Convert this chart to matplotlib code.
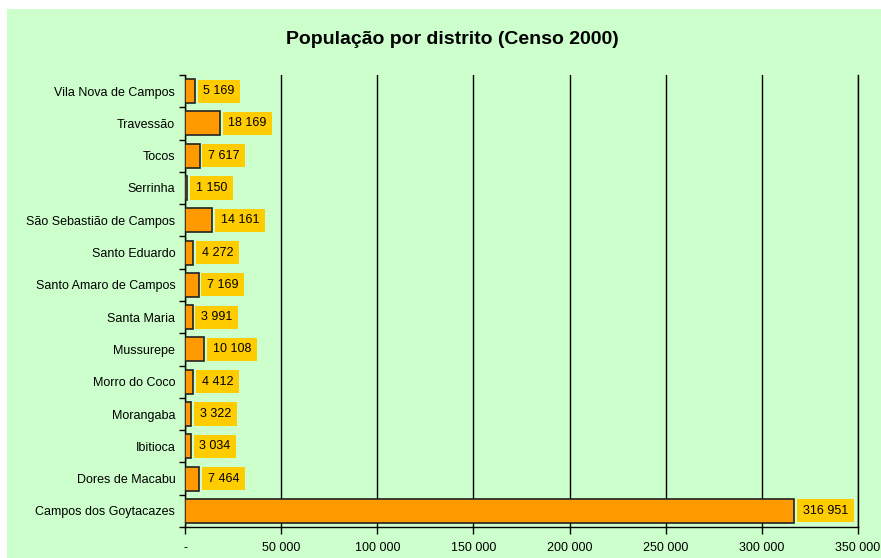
import matplotlib
matplotlib.use("Agg")
import matplotlib.pyplot as plt
from matplotlib.patches import Rectangle
from matplotlib.ticker import FuncFormatter, MultipleLocator

plt.rcParams['font.family'] = ['Liberation Sans', 'DejaVu Sans']

districts = ["Campos dos Goytacazes", "Dores de Macabu", "Ibitioca", "Morangaba",
             "Morro do Coco", "Mussurepe", "Santa Maria", "Santo Amaro de Campos",
             "Santo Eduardo", "São Sebastião de Campos", "Serrinha", "Tocos",
             "Travessão", "Vila Nova de Campos"]
population = [316951, 7464, 3034, 3322, 4412, 10108, 3991, 7169, 4272, 14161,
              1150, 7617, 18169, 5169]
title = "População por distrito (Censo 2000)"

def fmt(v):
    return f"{int(v):,}".replace(",", " ")

W, H = 881, 558
fig = plt.figure(figsize=(W / 100, H / 100), dpi=100)
fig.patch.set_facecolor("white")
fig.patches.append(Rectangle((7 / W, 0), 1 - 7 / W, 1 - 9 / H, transform=fig.transFigure,
                             facecolor="#CCFFCC", edgecolor="none", zorder=-10))

ax = fig.add_axes([185 / W, 31 / H, (858 - 185) / W, (527 - 75) / H])
ax.set_facecolor("none")
y = list(range(len(districts)))
ax.barh(y, population, height=0.74, color="#FF9900", edgecolor="#222222", linewidth=1.2, zorder=3)
for yi, v in zip(y, population):
    ax.annotate(fmt(v), (v, yi), xytext=(6, 0), textcoords="offset points",
                ha="left", va="center", fontsize=9, color="black", zorder=4,
                bbox=dict(boxstyle="square,pad=0.45", facecolor="#FFCC00", edgecolor="none"))

ax.set_xlim(0, 350000)
ax.set_ylim(-0.5, len(districts) - 0.5)
ax.xaxis.set_major_locator(MultipleLocator(50000))
ax.xaxis.set_major_formatter(FuncFormatter(lambda v, p: "-" if v == 0 else fmt(v)))
ax.set_yticks(y)
ax.set_yticklabels(districts)
ax.set_yticks([i - 0.5 for i in range(len(districts) + 1)], minor=True)
ax.tick_params(axis="y", which="major", length=0, labelsize=9, pad=7)
ax.tick_params(axis="y", which="minor", length=4, width=1, direction="out")
ax.tick_params(axis="x", length=5, width=1, labelsize=9, pad=6, direction="out")
ax.grid(axis="x", color="black", linewidth=1, zorder=0)
ax.spines["top"].set_visible(False)
for s in ["left", "bottom", "right"]:
    ax.spines[s].set_linewidth(1)
    ax.spines[s].set_color("black")

fig.text(452 / W, 1 - 40 / H, title, ha="center", va="center",
         fontsize=14, fontweight="bold")

fig.savefig("out.png", dpi=100, facecolor=fig.get_facecolor())
